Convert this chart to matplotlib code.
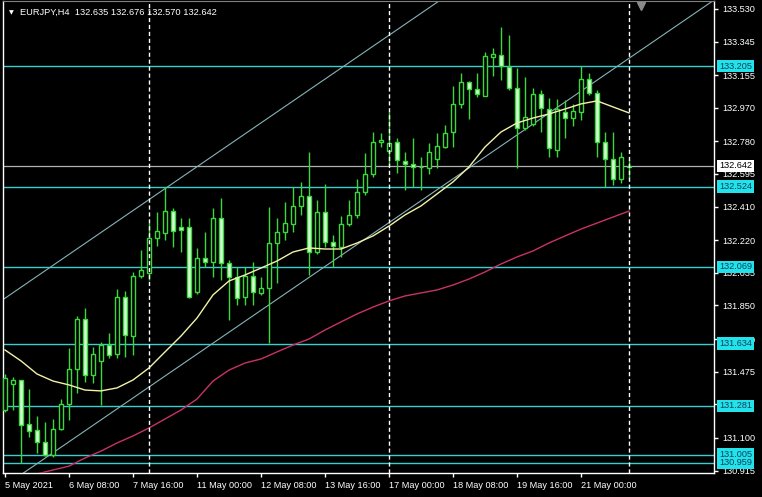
import matplotlib
matplotlib.use('Agg')
import matplotlib.pyplot as plt
import matplotlib.transforms as mtransforms
import numpy as np

# ---------------- data (EURJPY H4) ----------------
opens = [131.258, 131.405, 131.428, 131.178, 131.145, 131.077, 131.003, 131.150, 131.292, 131.490,
         131.774, 131.456, 131.536, 131.626, 131.575, 131.898, 131.677, 132.017, 132.034, 132.232,
         132.261, 132.385, 132.295, 132.295, 131.927, 132.119, 132.096, 132.346, 132.091, 132.011,
         131.898, 132.017, 131.921, 131.949, 132.204, 132.266, 132.312, 132.414, 132.470, 132.153,
         132.380, 132.210, 132.181, 132.312, 132.363, 132.493, 132.595, 132.776, 132.725, 132.776,
         132.669, 132.652, 132.637, 132.629, 132.680, 132.748, 132.833, 132.992, 133.116, 133.077,
         133.037, 133.258, 133.269, 133.201, 133.082, 132.856, 132.878, 133.048, 132.963, 132.731,
         132.946, 132.912, 132.946, 133.133, 133.054, 132.776, 132.680, 132.567, 132.635]
highs = [131.460, 131.445, 131.430, 131.377, 131.224, 131.190, 131.207, 131.320, 131.609, 131.791,
         131.836, 131.615, 131.643, 131.694, 131.943, 131.932, 132.040, 132.164, 132.317, 132.380,
         132.521, 132.402, 132.346, 132.346, 132.176, 132.266, 132.402, 132.459, 132.108, 132.068,
         132.068, 132.096, 132.011, 132.408, 132.346, 132.436, 132.521, 132.550, 132.720, 132.448,
         132.538, 132.249, 132.357, 132.448, 132.567, 132.714, 132.833, 132.827, 132.946, 132.799,
         132.720, 132.799, 132.691, 132.771, 132.827, 132.873, 133.093, 133.167, 133.122, 133.167,
         133.286, 133.309, 133.428, 133.382, 133.195, 133.144, 133.082, 133.071, 133.026, 133.020,
         133.014, 132.992, 133.207, 133.167, 133.071, 132.833, 132.833, 132.720, 132.676]
lows = [131.245, 131.258, 130.957, 131.105, 131.014, 130.997, 130.991, 131.145, 131.201, 131.354,
        131.417, 131.411, 131.286, 131.553, 131.553, 131.558, 131.570, 132.006, 131.994, 132.187,
        132.221, 132.181, 132.153, 131.893, 131.915, 132.068, 132.011, 131.994, 131.768, 131.853,
        131.853, 131.853, 131.910, 131.638, 131.977, 132.221, 132.266, 132.363, 132.023, 132.142,
        132.181, 132.068, 132.125, 132.300, 132.346, 132.476, 132.578, 132.748, 132.646, 132.601,
        132.504, 132.521, 132.504, 132.595, 132.629, 132.742, 132.748, 132.969, 132.907, 133.031,
        133.035, 133.150, 133.127, 133.071, 132.629, 132.844, 132.867, 132.833, 132.691, 132.691,
        132.799, 132.867, 132.901, 133.043, 132.691, 132.521, 132.533, 132.544, 132.570]
closes = [131.439, 131.428, 131.173, 131.139, 131.077, 131.003, 131.150, 131.292, 131.490, 131.774,
          131.456, 131.575, 131.626, 131.570, 131.898, 131.683, 132.017, 132.051, 132.232, 132.272,
          132.385, 132.272, 132.278, 131.898, 132.119, 132.096, 132.346, 132.091, 132.011, 131.893,
          132.017, 131.927, 131.949, 132.204, 132.266, 132.317, 132.414, 132.470, 132.153, 132.380,
          132.210, 132.187, 132.312, 132.363, 132.493, 132.595, 132.776, 132.788, 132.771, 132.674,
          132.652, 132.635, 132.635, 132.720, 132.754, 132.827, 132.992, 133.116, 133.077, 133.048,
          133.263, 133.275, 133.207, 133.082, 132.856, 132.918, 133.048, 132.969, 132.742, 132.963,
          132.912, 132.952, 133.133, 133.054, 132.776, 132.680, 132.567, 132.691, 132.642]

# moving averages (bar index, value)
ma_fast_bars = [0, 2, 4, 6, 8, 10, 12, 14, 16, 18, 20, 22, 24, 26, 28, 30, 32, 34, 36, 38,
                40, 42, 44, 46, 48, 50, 52, 54, 56, 58, 60, 62, 64, 66, 68, 70, 72, 74, 76, 78]
ma_fast_vals = [131.598, 131.536, 131.462, 131.422, 131.400, 131.371, 131.366, 131.383, 131.428, 131.496,
                131.587, 131.677, 131.779, 131.910, 131.989, 132.023, 132.062, 132.102, 132.153, 132.176,
                132.170, 132.170, 132.204, 132.244, 132.300, 132.363, 132.414, 132.482, 132.550, 132.635,
                132.748, 132.833, 132.884, 132.912, 132.935, 132.963, 132.992, 133.009, 132.975, 132.941]
ma_slow_bars = [3, 5, 8, 10, 12, 14, 16, 18, 20, 22, 24, 26, 28, 30, 32, 34, 36, 38, 40, 42,
                44, 46, 48, 50, 52, 54, 56, 58, 60, 62, 64, 66, 68, 70, 72, 74, 76, 78]
ma_slow_vals = [130.885, 130.907, 130.940, 130.986, 131.025, 131.071, 131.111, 131.156, 131.207, 131.258,
                131.320, 131.422, 131.484, 131.524, 131.547, 131.587, 131.626, 131.660, 131.711, 131.757,
                131.802, 131.841, 131.876, 131.904, 131.921, 131.938, 131.966, 132.000, 132.040, 132.085,
                132.125, 132.159, 132.204, 132.244, 132.283, 132.317, 132.351, 132.385]

# horizontal levels and bid line
levels = [133.205, 132.524, 132.069, 131.634, 131.281, 131.005, 130.959]
bid = 132.642

# channel anchors (bar, price)
channel_lower = [(3.75, 130.946), (87.75, 133.553)]
channel_upper = [(10.625, 132.221), (94.625, 134.828)]

# period separators (bar index)
separators = [18, 48, 78]

# axes ticks
price_ticks = [133.530, 133.345, 133.155, 132.970, 132.780, 132.595, 132.410, 132.220,
               132.035, 131.850, 131.660, 131.475, 131.290, 131.100, 130.915]
price_tick_labels = ['133.530', '133.345', '133.155', '132.970', '132.780', '132.595', '132.410',
                     '132.220', '132.035', '131.850', '131.660', '131.475', '', '131.100', '130.915']
time_tick_bars = [0, 8, 16, 24, 32, 40, 48, 56, 64, 72]
time_tick_labels = ['5 May 2021', '6 May 08:00', '7 May 16:00', '11 May 00:00', '12 May 08:00',
                    '13 May 16:00', '17 May 00:00', '18 May 08:00', '19 May 16:00', '21 May 00:00']

header = 'EURJPY,H4  132.635 132.676 132.570 132.642'

# ---------------- drawing ----------------
FONT = ['Liberation Sans', 'DejaVu Sans']
plt.rcParams['font.family'] = FONT

W, H = 762, 497
fig = plt.figure(figsize=(W / 100, H / 100), dpi=100, facecolor='black')
ax = fig.add_axes([3 / W, 1 - 473 / H, 711 / W, 472 / H])
ax.set_facecolor('black')

ax.set_xlim(-0.25, 88.625)
ax.set_ylim(130.901, 133.575)

wick = '#3ad83a'
bear_fill = '#d6fcd6'
o = np.array(opens); h = np.array(highs); l = np.array(lows); c = np.array(closes)
x = np.arange(len(o))

ax.vlines(x, l, h, color=wick, lw=1.0, zorder=3)
bull = c >= o
bear = ~bull
hb = np.maximum(c[bull] - o[bull], 0.002)
ax.bar(x[bull], hb, bottom=o[bull], width=0.62, facecolor='black', edgecolor=wick, lw=1.0, zorder=4)
hr = np.maximum(o[bear] - c[bear], 0.002)
ax.bar(x[bear], hr, bottom=c[bear], width=0.62, facecolor=bear_fill, edgecolor=wick, lw=1.0, zorder=4)

# levels
line_cyan = '#38cfcf'
for lv in levels:
    ax.axhline(lv, color=line_cyan, lw=1.0, zorder=2)
ax.axhline(bid, color='#b0b0b0', lw=0.9, zorder=2)

# channel
chan_col = '#84b4b8'
ax.axline(channel_lower[0], channel_lower[1], color=chan_col, lw=0.8, zorder=2)
ax.axline(channel_upper[0], channel_upper[1], color=chan_col, lw=0.8, zorder=2)

# moving averages
ax.plot(ma_fast_bars, ma_fast_vals, color='#f2f2a8', lw=1.0, zorder=5)
ax.plot(ma_slow_bars, ma_slow_vals, color='#c8326a', lw=1.0, zorder=5)

# separators
for s in separators:
    ax.axvline(s, color='white', lw=1.0, ls=(0, (3, 2)), zorder=6)

# spines
for side in ['left', 'right', 'bottom']:
    ax.spines[side].set_color('white')
    ax.spines[side].set_linewidth(1.0)
ax.spines['top'].set_color('#808080')

# ticks
ax.yaxis.tick_right()
ax.set_yticks(price_ticks)
ax.set_yticklabels(price_tick_labels)
ax.tick_params(axis='y', colors='white', length=3, width=1, labelsize=6.6, pad=3)
ax.set_xticks(time_tick_bars)
ax.set_xticklabels(time_tick_labels, ha='left')
ax.tick_params(axis='x', colors='white', length=3, width=1, labelsize=6.6, pad=3)

# right-side price labels
trans = mtransforms.blended_transform_factory(ax.transAxes, ax.transData)
xoff = 1 + 5 / 711
for lv in levels:
    ax.text(xoff, lv, f'{lv:.3f}', transform=trans, va='center', ha='left', fontsize=6.6,
            color='#0d4060', clip_on=False, zorder=10,
            bbox=dict(boxstyle='square,pad=0.18', fc='#22e2ea', ec='none'))
ax.text(xoff, bid, f'{bid:.3f}', transform=trans, va='center', ha='left', fontsize=6.6,
        color='black', clip_on=False, zorder=10,
        bbox=dict(boxstyle='square,pad=0.18', fc='white', ec='none'))

# header
fig.text(9 / W, 1 - 12.5 / H, '\u25bc', color='white', fontsize=4.5, va='center', ha='left',
         family=['DejaVu Sans'])
fig.text(20 / W, 1 - 12 / H, header, color='white', fontsize=6.7, va='center', ha='left')

# chart-shift marker
tr2 = mtransforms.blended_transform_factory(ax.transData, ax.transAxes)
ax.plot([79.5], [1 - 5 / 472], marker='v', ms=6, color='#8a8a8a', transform=tr2,
        clip_on=False, zorder=7)

fig.savefig('out.png', dpi=100, facecolor='black')
